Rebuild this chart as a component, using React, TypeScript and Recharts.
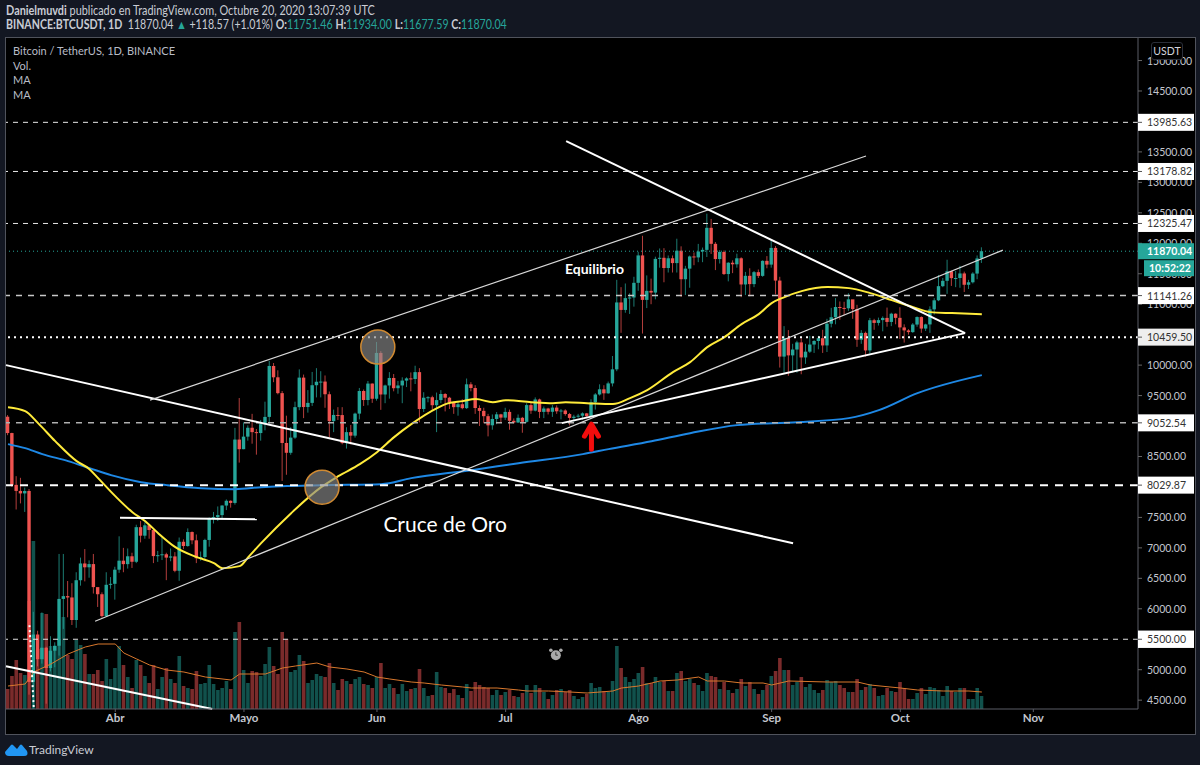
import { Bar, Cell, ComposedChart, Line, ReferenceDot, ReferenceLine, XAxis, YAxis } from "recharts";

// Daily candles, 7 Mar 2020 to 20 Oct 2020. Grouped by month.
const firstOpen = 9153;
const closes = [
  8885, 8034, 7935, 7894, 7934, 4800, 5578, 5172, 5361, 5028, 5312, 5393, 6162, 6208, 6186, 5816, 6469, 6744, 6681, 6734, 6356, 6239, 5880, 6394, 6410,
  6642, 6790, 6733, 6862, 6772, 7340, 7200, 7370, 7293, 6865, 6880, 6895, 6840, 6860, 6624, 7100, 7030, 7260, 7124, 6830, 6850, 7130, 7480, 7505, 7538, 7695, 7773, 7738, 8778, 8620,
  8826, 8972, 8900, 8885, 9031, 9150, 9986, 9800, 9540, 8722, 8561, 8810, 9310, 9795, 9312, 9380, 9670, 9727, 9730, 9522, 9081, 9182, 9180, 8720, 8900, 8842, 9204, 9575, 9427, 9697, 9448,
  10200, 9518, 9666, 9789, 9621, 9666, 9746, 9782, 9772, 9885, 9280, 9465, 9473, 9342, 9426, 9526, 9465, 9386, 9310, 9358, 9294, 9685, 9624, 9296, 9249, 9162, 9012, 9116, 9192, 9138,
  9232, 9086, 9058, 9135, 9069, 9344, 9253, 9436, 9232, 9288, 9234, 9303, 9242, 9255, 9197, 9133, 9154, 9170, 9208, 9161, 9390, 9518, 9603, 9537, 9700, 9931, 11029, 10906, 11100, 11110, 11351,
  11801, 11071, 11219, 11191, 11744, 11762, 11594, 11754, 11675, 11878, 11410, 11584, 11784, 11768, 11865, 11892, 12254, 11991, 11741, 11858, 11495, 11681, 11655, 11754, 11324, 11466, 11330, 11526, 11465, 11712, 11650,
  11924, 11388, 10140, 10446, 10160, 10256, 10373, 10126, 10221, 10338, 10396, 10442, 10323, 10680, 10786, 10954, 10939, 10933, 11080, 10920, 10417, 10529, 10241, 10737, 10693, 10739, 10775, 10709, 10844, 10776,
  10619, 10570, 10542, 10666, 10789, 10600, 10668, 10915, 11064, 11296, 11384, 11540, 11428, 11430, 11505, 11319, 11360, 11503, 11751, 11870,
];
const highs = [
  9180, 8890, 8177, 8150, 7990, 7966, 5950, 5640, 5940, 5377, 5550, 5450, 6900, 6900, 6456, 6420, 6600, 6840, 6980, 6795, 6900, 6310, 6270, 6600, 6520,
  6690, 7190, 7000, 6990, 6920, 7380, 7440, 7420, 7380, 7315, 6950, 7180, 6920, 6990, 6930, 7170, 7140, 7320, 7270, 7220, 6940, 7150, 7500, 7590, 7680, 7700, 7795, 7780, 8970, 9460,
  9060, 9010, 9200, 8950, 9100, 9400, 10070, 10035, 9915, 9575, 9170, 8980, 9400, 9930, 9845, 9590, 9888, 9950, 9900, 9830, 9567, 9270, 9310, 9310, 8980, 9017, 9220, 9625, 9600, 9740, 9700,
  10380, 10230, 9680, 9885, 9854, 9740, 9800, 9800, 9880, 9990, 9950, 9555, 9490, 9498, 9550, 9590, 9540, 9480, 9400, 9400, 9440, 9780, 9720, 9670, 9340, 9300, 9200, 9190, 9230, 9200,
  9300, 9270, 9125, 9190, 9150, 9375, 9379, 9470, 9450, 9320, 9300, 9345, 9340, 9280, 9275, 9215, 9185, 9200, 9225, 9215, 9440, 9540, 9685, 9670, 9730, 10150, 11400, 11280, 11340, 11180, 11450,
  11860, 12123, 11473, 11420, 11780, 11915, 11920, 11800, 11800, 12075, 11950, 11630, 11800, 11850, 11990, 11930, 12486, 12400, 12020, 11888, 11883, 11690, 11720, 11830, 11770, 11530, 11590, 11545, 11570, 11720, 11790,
  12060, 11955, 11450, 10640, 10575, 10350, 10400, 10440, 10350, 10480, 10410, 10480, 10580, 10760, 10940, 11100, 11045, 11040, 11180, 11050, 10990, 10575, 10550, 10775, 10760, 10780, 10800, 10945, 10860, 10850,
  10950, 10670, 10590, 10690, 10800, 10800, 10680, 10965, 11100, 11480, 11430, 11730, 11550, 11545, 11630, 11535, 11400, 11525, 11800, 11934,
];
const lows = [
  8850, 8000, 7630, 7730, 7590, 4590, 4360, 5055, 5100, 4442, 4972, 5040, 5232, 5670, 5860, 5734, 5688, 6380, 6450, 6510, 6250, 6030, 5855, 5866, 6330,
  6150, 6590, 6600, 6660, 6670, 6750, 7090, 7150, 7150, 6750, 6770, 6800, 6470, 6780, 6600, 6460, 6980, 7020, 7060, 6750, 6790, 6820, 7020, 7400, 7440, 7470, 7620, 7660, 7710, 8400,
  8620, 8760, 8710, 8530, 8760, 8930, 9010, 9720, 9520, 8100, 8200, 8528, 8790, 9260, 9130, 9220, 9330, 9470, 9470, 9300, 8815, 8900, 9100, 8700, 8630, 8700, 8810, 9110, 9330, 9340, 9380,
  9417, 9266, 9375, 9450, 9570, 9530, 9375, 9640, 9570, 9690, 9060, 9230, 9390, 9260, 8900, 9375, 9240, 9280, 9200, 9170, 9275, 9280, 9570, 9200, 9000, 9046, 8830, 8940, 9030, 9065,
  9100, 8940, 9040, 9050, 8890, 9055, 9200, 9240, 9130, 9130, 9190, 9150, 9200, 9110, 9170, 9010, 9070, 9136, 9100, 9130, 9150, 9270, 9500, 9430, 9530, 9650, 9900, 10530, 10860, 10840, 10960,
  11220, 10518, 10936, 11000, 11080, 11600, 11360, 11520, 11520, 11520, 11120, 11150, 11270, 11640, 11690, 11690, 11775, 11825, 11560, 11668, 11480, 11375, 11510, 11600, 11115, 11150, 11130, 11280, 11430, 11450, 11590,
  11600, 11160, 9960, 9875, 9825, 9880, 9875, 9850, 10020, 10200, 10200, 10260, 10200, 10215, 10620, 10670, 10745, 10820, 10890, 10760, 10300, 10350, 10140, 10190, 10580, 10650, 10555, 10630, 10640, 10670,
  10430, 10370, 10500, 10530, 10630, 10530, 10560, 10530, 10830, 11050, 11280, 11170, 11300, 11280, 11270, 11200, 11250, 11340, 11410, 11677,
];
// Volume in relative units
const volumes = [
  20, 33, 49, 36, 34, 108, 168, 60, 96, 95, 63, 63, 70, 92, 54, 50, 69, 64, 55, 35, 35, 39, 28, 50, 30,
  41, 63, 44, 32, 21, 49, 44, 33, 26, 44, 20, 32, 41, 30, 26, 53, 23, 21, 20, 38, 25, 26, 44, 25, 19, 21, 28, 20, 77, 87,
  39, 26, 38, 37, 33, 45, 62, 43, 35, 77, 70, 37, 39, 54, 48, 26, 29, 35, 33, 32, 46, 26, 19, 30, 28, 25, 30, 32, 25, 24, 21,
  32, 46, 21, 25, 21, 15, 25, 18, 20, 21, 40, 21, 13, 14, 37, 22, 21, 16, 20, 14, 11, 25, 18, 27, 24, 22, 21, 14, 19, 14,
  17, 19, 13, 12, 16, 24, 16, 24, 21, 17, 10, 14, 19, 20, 17, 19, 13, 10, 12, 15, 26, 21, 22, 18, 17, 28, 63, 41, 32, 27, 30,
  36, 42, 26, 26, 32, 27, 28, 18, 18, 36, 38, 28, 30, 26, 24, 18, 36, 33, 32, 20, 27, 19, 16, 20, 30, 23, 27, 20, 15, 19, 24,
  33, 38, 51, 39, 39, 24, 27, 32, 22, 25, 19, 16, 19, 29, 27, 28, 24, 21, 17, 17, 30, 19, 22, 25, 21, 13, 14, 21, 18, 17,
  27, 21, 10, 10, 16, 21, 15, 22, 21, 19, 13, 23, 18, 17, 21, 21, 10, 10, 21, 13,
];

// Moving averages, sampled where the curve bends: [day, value]
const yellowMa = [
  [0, 9310], [4, 9245], [7, 9048], [11, 8752], [16, 8424], [19, 8292], [21, 8145], [25, 7849], [29, 7586], [32, 7438], [35, 7241], [39, 7012],
  [44, 6847], [48, 6749], [50, 6667], [54, 6700], [56, 6847], [59, 7077], [66, 7570], [73, 7997], [77, 8177], [82, 8374], [86, 8571], [90, 8818],
  [94, 9031], [100, 9294], [102, 9360], [106, 9409], [109, 9442], [113, 9392], [116, 9425], [122, 9392], [127, 9376], [130, 9392], [135, 9376],
  [141, 9360], [145, 9458], [149, 9590], [155, 9885], [159, 10049], [163, 10296], [167, 10460], [171, 10673], [175, 10837], [178, 11018],
  [181, 11117], [185, 11215], [191, 11281], [196, 11264], [201, 11182], [206, 11067], [211, 10952], [215, 10870], [220, 10854], [227, 10837],
];
const blueMa = [
  [0, 8703], [4, 8637], [8, 8539], [14, 8424], [19, 8309], [24, 8194], [31, 8079], [37, 8030], [45, 7980], [53, 7964], [59, 7997], [73, 8030],
  [87, 8046], [94, 8145], [108, 8276], [119, 8391], [134, 8539], [140, 8621], [150, 8752], [159, 8883], [170, 9015], [184, 9064], [196, 9130],
  [203, 9261], [212, 9540], [227, 9836],
];
const volumeMa = [
  [0, 23], [4, 25], [6, 37], [10, 45], [14, 55], [18, 62], [21, 65], [25, 65], [27, 56], [30, 50], [33, 44], [37, 39], [41, 37], [46, 32], [52, 29],
  [54, 35], [60, 35], [64, 41], [67, 43], [72, 46], [75, 42], [79, 40], [83, 37], [86, 32], [89, 30], [94, 27], [97, 26], [101, 24], [106, 22],
  [108, 21], [114, 21], [119, 19], [121, 18], [126, 18], [131, 17], [135, 16], [141, 18], [143, 21], [147, 23], [150, 26], [152, 28], [156, 29],
  [161, 32], [163, 28], [167, 28], [171, 26], [176, 26], [178, 24], [182, 28], [191, 27], [198, 27], [201, 24], [208, 21], [212, 19], [218, 18],
  [224, 18], [227, 17],
];

const monthDays = [25, 55, 86, 116, 147, 178, 208, 239];
const monthLabels = ["Abr", "Mayo", "Jun", "Jul", "Ago", "Sep", "Oct", "Nov"];
const priceTicks = [15000, 14500, 14000, 13500, 13000, 12500, 12000, 11500, 11000, 10500, 10000, 9500, 9000, 8500, 8000, 7500, 7000, 6500, 6000, 5500, 5000, 4500];
const levelPrices = [13985.63, 13178.82, 12325.47, 11141.26, 10459.5, 9052.54, 8029.87, 5500];
const lastPrice = 11870.04;

const pickAt = (pairs: number[][], day: number) => {
  const hit = pairs.find((p) => p[0] === day);
  return hit ? hit[1] : null;
};

const rows = closes.map((close, day) => ({
  day,
  open: day === 0 ? firstOpen : closes[day - 1],
  close,
  range: [lows[day], highs[day]],
  vol: volumes[day],
  yellow: pickAt(yellowMa, day),
  blue: pickAt(blueMa, day),
  volMa: pickAt(volumeMa, day),
}));

const UP = "#26a69a";
const DOWN = "#ef5350";
const FONT = "Lato, sans-serif";

const Candle = (props: any) => {
  const { x, y, width, height, payload } = props;
  const { open, close, range } = payload;
  const color = close >= open ? UP : DOWN;
  const perUnit = Math.abs(height) / (range[1] - range[0]);
  const top = y + (range[1] - Math.max(open, close)) * perUnit;
  const bodyH = Math.max(1, Math.abs(open - close) * perUnit);
  const mid = x + width / 2;
  return (
    <g>
      <line x1={mid} x2={mid} y1={y} y2={y + Math.abs(height)} stroke={color} strokeOpacity={0.75} strokeWidth={1} />
      <rect x={x} y={top} width={width} height={bodyH} fill={color} />
    </g>
  );
};

const PriceTick = (props: any) => {
  const { x, y, payload } = props;
  const value = payload.value;
  const left = x;
  if (value === lastPrice) {
    return (
      <g>
        <rect x={left} y={y - 8} width={56} height={16} fill={UP} />
        <text x={left + 9} y={y + 4} fill="#fff" fontFamily={FONT} fontSize={10.5} fontWeight={700}>11870.04</text>
        <rect x={left + 6} y={y + 9} width={50} height={16} fill={UP} />
        <text x={left + 11} y={y + 21} fill="#fff" fontFamily={FONT} fontSize={10.5} fontWeight={700}>10:52:22</text>
      </g>
    );
  }
  if (levelPrices.includes(value)) {
    return (
      <g>
        <rect x={left} y={y - 8.5} width={56} height={17} fill={value === 10459.5 ? "#eeeeee" : "#ffffff"} />
        <line x1={left} x2={left + 4} y1={y} y2={y} stroke="#555" />
        <text x={left + 9} y={y + 4} fill="#333" fontFamily={FONT} fontSize={10.5}>{value.toFixed(2)}</text>
      </g>
    );
  }
  return (
    <g>
      <line x1={left} x2={left + 4} y1={y} y2={y} stroke="#666" />
      <text x={left + 9} y={y + 4} fill="#c3c6ce" fontFamily={FONT} fontSize={10.5}>{value.toFixed(2)}</text>
    </g>
  );
};

const Arrow = (props: any) => {
  const { cx, cy } = props;
  return (
    <path
      d={`M${cx} ${cy + 13} V${cy - 12} M${cx - 7} ${cy} L${cx} ${cy - 12} L${cx + 7} ${cy}`}
      fill="none"
      stroke="#f20d0d"
      strokeWidth={5}
      strokeLinejoin="round"
      strokeLinecap="round"
    />
  );
};

const Clock = (props: any) => {
  const { cx, cy } = props;
  return (
    <g>
      <circle cx={cx} cy={cy} r={5} fill="#a8a8a8" />
      <circle cx={cx - 5} cy={cy - 5} r={1.8} fill="#a8a8a8" />
      <circle cx={cx + 5} cy={cy - 5} r={1.8} fill="#a8a8a8" />
      <path d={`M${cx} ${cy - 3} V${cy} H${cx + 2}`} stroke="#333" fill="none" />
    </g>
  );
};

const trendLine = (key: string, a: number[], b: number[], stroke: string, width: number, dash?: string) => (
  <ReferenceLine
    key={key}
    xAxisId="main"
    yAxisId="price"
    segment={[{ x: a[0], y: a[1] }, { x: b[0], y: b[1] }]}
    stroke={stroke}
    strokeWidth={width}
    strokeDasharray={dash}
  />
);

const level = (price: number, stroke: string, width: number, dash: string) => (
  <ReferenceLine key={price} xAxisId="main" yAxisId="price" y={price} stroke={stroke} strokeWidth={width} strokeDasharray={dash} />
);

export default function App() {
  const muted = "#b8bcc6";
  const headerLine = { position: "absolute", left: 6, fontSize: 12.5, color: "#c9ccd4", whiteSpace: "nowrap", transformOrigin: "left center" } as const;
  return (
    <div style={{ position: "absolute", left: 0, top: 0, width: 1200, height: 765, background: "#131722", fontFamily: FONT, overflow: "hidden" }}>
      <div style={{ ...headerLine, top: 3, transform: "scaleX(0.87)" }}>
        <b>Danielmuvdi</b> publicado en TradingView.com, Octubre 20, 2020 13:07:39 UTC
      </div>
      <div style={{ ...headerLine, top: 17, transform: "scaleX(0.85)" }}>
        <b>BINANCE:BTCUSDT, 1D</b> &nbsp;11870.04 <span style={{ color: UP }}>▲</span> +118.57 (+1.01%) <b>O:</b><span style={{ color: UP }}>11751.46</span> <b>H:</b><span style={{ color: UP }}>11934.00</span> <b>L:</b><span style={{ color: UP }}>11677.59</span> <b>C:</b><span style={{ color: UP }}>11870.04</span>
      </div>

      <div style={{ position: "absolute", left: 5, top: 37, width: 1189, height: 696, background: "#000", border: "1px solid #50535c" }} />

      <div style={{ position: "absolute", left: 0, top: 0 }}>
        <ComposedChart width={1200} height={765} data={rows} margin={{ top: 38, right: 6, bottom: 32, left: 6 }}>
          <XAxis
            xAxisId="main"
            dataKey="day"
            type="number"
            domain={[-0.47, 263.4]}
            ticks={monthDays}
            interval={0}
            height={24}
            stroke="#5a5d66"
            tickSize={3}
            tickFormatter={(d: number) => monthLabels[monthDays.indexOf(d)]}
            tick={{ fill: "#c3c6ce", fontSize: 11.5, fontFamily: FONT, fontWeight: 700 }}
          />
          <XAxis xAxisId="volx" dataKey="day" type="number" domain={[-0.47, 263.4]} hide />
          <YAxis
            yAxisId="price"
            orientation="right"
            type="number"
            domain={[4355, 15370]}
            ticks={[...priceTicks, ...levelPrices, lastPrice]}
            interval={0}
            width={56}
            axisLine={{ stroke: "#5a5d66" }}
            tickLine={false}
            tickSize={0}
            tickMargin={0}
            tick={<PriceTick />}
          />
          <YAxis yAxisId="vol" type="number" domain={[0, 671]} hide />

          <Bar xAxisId="volx" yAxisId="vol" dataKey="vol" barSize={3.6} isAnimationActive={false}>
            {rows.map((r) => (
              <Cell key={r.day} fill={r.close >= r.open ? "#11514c" : "#7a2b2b"} />
            ))}
          </Bar>
          <Line xAxisId="main" yAxisId="vol" dataKey="volMa" stroke="#d9782d" strokeWidth={1} dot={false} connectNulls isAnimationActive={false} />
          <Bar xAxisId="main" yAxisId="price" dataKey="range" barSize={3.4} shape={<Candle />} isAnimationActive={false} />
          <Line xAxisId="main" yAxisId="price" type="monotone" dataKey="blue" stroke="#1e88e5" strokeWidth={2} dot={false} connectNulls isAnimationActive={false} />
          <Line xAxisId="main" yAxisId="price" type="monotone" dataKey="yellow" stroke="#ffeb3b" strokeWidth={2} dot={false} connectNulls isAnimationActive={false} />

          {level(13985.63, "#e8e8e8", 1, "5 5")}
          {level(13178.82, "#e8e8e8", 1, "5 5")}
          {level(12325.47, "#e8e8e8", 1, "5 5")}
          {level(11141.26, "#c8c8c8", 1.5, "6 6")}
          {level(10459.5, "#ffffff", 2, "2 4")}
          {level(9052.54, "#b0b0b0", 1.5, "6 6")}
          {level(8029.87, "#ffffff", 2, "8 7")}
          {level(5500, "#e0e0e0", 1, "5 5")}
          {level(lastPrice, "#26a69a", 1, "1 3")}

          {trendLine("a", [-0.47, 10000], [183, 7077], "#ffffff", 2)}
          {trendLine("b", [20.3, 5796], [231.9, 11888], "#d8d8d8", 1.2)}
          {trendLine("c", [33.1, 9425], [200, 13432], "#d8d8d8", 1.2)}
          {trendLine("d", [130.1, 13678], [223.1, 10525], "#ffffff", 2)}
          {trendLine("e", [129.1, 9048], [223.1, 10525], "#ffffff", 2)}
          {trendLine("f", [26.1, 7496], [58, 7471], "#ffffff", 2)}
          {trendLine("g", [-0.47, 5058], [47.6, 4356], "#ffffff", 2)}
          {trendLine("h", [5, 5731], [6, 4368], "#ffffff", 2, "2 3")}

          <ReferenceDot xAxisId="main" yAxisId="price" x={86.2} y={10296} r={17} fill="#8a8a8a" fillOpacity={0.65} stroke="#d08a32" strokeWidth={1.5} />
          <ReferenceDot xAxisId="main" yAxisId="price" x={73.2} y={7997} r={17} fill="#8a8a8a" fillOpacity={0.65} stroke="#d08a32" strokeWidth={1.5} />
          <ReferenceDot xAxisId="main" yAxisId="price" x={136} y={8834} shape={<Arrow />} />
          <ReferenceDot xAxisId="main" yAxisId="price" x={127.7} y={5238} shape={<Clock />} />
          <ReferenceDot
            xAxisId="main"
            yAxisId="price"
            x={136.7}
            y={11576}
            r={0}
            label={{ value: "Equilibrio", position: "center", fill: "#fff", fontSize: 14, fontWeight: 700, fontFamily: FONT }}
          />
          <ReferenceDot
            xAxisId="main"
            yAxisId="price"
            x={101.9}
            y={7389}
            r={0}
            label={{ value: "Cruce de Oro", position: "center", fill: "#fff", fontSize: 21, fontFamily: FONT }}
          />
        </ComposedChart>
      </div>

      <div style={{ position: "absolute", left: 13, top: 44, fontSize: 11, lineHeight: "14.5px", color: muted }}>
        <div>Bitcoin / TetherUS, 1D, BINANCE</div>
        <div>Vol.</div>
        <div>MA</div>
        <div>MA</div>
      </div>
      <div style={{ position: "absolute", left: 1151, top: 42, width: 30, height: 16, border: "1px solid #2a2e39", borderRadius: 3, background: "#000", color: "#d1d4dc", fontSize: 10.5, lineHeight: "16px", textAlign: "center" }}>
        USDT
      </div>

      <svg style={{ position: "absolute", left: 5, top: 741 }} width={24} height={16} viewBox="0 0 24 16">
        <path d="M0 11 L6 4 Q7 3 8 4 L12 8 L15 4 Q16 3 17 4 L22 10 Q24 15 19 15 L4 15 Q0 15 0 11 Z" fill="#2196f3" />
      </svg>
      <div style={{ position: "absolute", left: 29, top: 742, fontSize: 12, color: "#c9ccd4" }}>TradingView</div>
    </div>
  );
}
